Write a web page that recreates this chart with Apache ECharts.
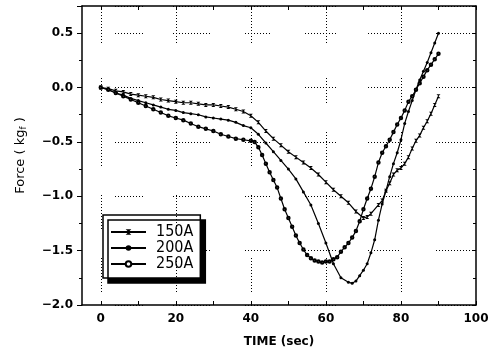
<!DOCTYPE html>
<html>
<head>
<meta charset="utf-8">
<script src="https://cdn.jsdelivr.net/npm/echarts@6/dist/echarts.min.js"></script>
<style>
html,body{margin:0;padding:0;background:#fff;}
#c{width:497px;height:353px;}
</style>
</head>
<body>
<div id="c"></div>
<script>
// ---- data ----
const seriesNames = ['150A', '200A', '250A'];
const xTickLabels = [0, 20, 40, 60, 80, 100];
const xGridValues = [0, 20, 40, 60, 80];
const yTickLabels = [-2.0, -1.5, -1.0, -0.5, 0.0, 0.5];

const s150_x = [0,2,4,6,8,10,12,14,16,18,20,22,24,26,28,30,32,34,36,38,40,42,44,46,48,50,52,54,56,58,60,62,64,66,68,70,71,72,74,75,76,77,78,79,80,81,82,83,84,85,86,87,88,89,90];
const s150_y = [0,-0.01,-0.03,-0.04,-0.06,-0.07,-0.08,-0.09,-0.11,-0.12,-0.13,-0.14,-0.14,-0.15,-0.16,-0.16,-0.17,-0.18,-0.20,-0.22,-0.26,-0.32,-0.40,-0.47,-0.53,-0.59,-0.64,-0.69,-0.74,-0.80,-0.87,-0.94,-1.00,-1.06,-1.14,-1.20,-1.19,-1.16,-1.08,-1.04,-0.95,-0.88,-0.80,-0.76,-0.74,-0.70,-0.64,-0.56,-0.49,-0.44,-0.37,-0.31,-0.24,-0.16,-0.08];

const s200_x = [0,2,4,6,8,10,12,14,16,18,20,22,24,26,28,30,32,34,36,38,40,42,44,46,48,50,52,54,56,58,60,62,64,66,67,68,69,70,71,72,73,74,75,76,77,78,79,80,81,82,83,84,85,86,87,88,89,90];
const s200_y = [0,-0.02,-0.05,-0.07,-0.10,-0.12,-0.14,-0.16,-0.18,-0.20,-0.21,-0.23,-0.24,-0.25,-0.27,-0.28,-0.29,-0.30,-0.32,-0.35,-0.37,-0.43,-0.51,-0.59,-0.67,-0.75,-0.84,-0.96,-1.08,-1.25,-1.43,-1.62,-1.75,-1.79,-1.80,-1.78,-1.73,-1.68,-1.62,-1.52,-1.40,-1.22,-1.07,-0.95,-0.82,-0.70,-0.60,-0.48,-0.33,-0.22,-0.12,-0.02,0.07,0.15,0.23,0.32,0.41,0.50];

const s250_x = [0,2,4,6,8,10,12,14,16,18,20,22,24,26,28,30,32,34,36,38,40,41,42,43,44,45,46,47,48,49,50,51,52,53,54,55,56,57,58,59,60,61,62,63,64,65,66,67,68,69,70,71,72,73,74,75,76,77,78,79,80,81,82,83,84,85,86,87,88,89,90];
const s250_y = [0,-0.02,-0.05,-0.08,-0.11,-0.14,-0.17,-0.20,-0.23,-0.26,-0.28,-0.30,-0.33,-0.36,-0.38,-0.40,-0.43,-0.45,-0.47,-0.48,-0.49,-0.50,-0.55,-0.62,-0.70,-0.78,-0.85,-0.92,-1.02,-1.12,-1.20,-1.28,-1.36,-1.43,-1.49,-1.54,-1.57,-1.59,-1.60,-1.61,-1.60,-1.60,-1.58,-1.56,-1.51,-1.47,-1.43,-1.38,-1.32,-1.23,-1.12,-1.02,-0.93,-0.82,-0.69,-0.60,-0.54,-0.48,-0.41,-0.34,-0.28,-0.21,-0.13,-0.08,-0.02,0.04,0.10,0.16,0.21,0.26,0.31];

// ---- helpers (style only) ----
function zip(xs, ys){ return xs.map((x,i)=>[x, ys[i]]); }
function segDash(segs){
  const dot = 1, gap = 2;
  const arr = []; let pos = 0;
  segs.forEach(s => {
    const off = s[0] - pos;
    if (arr.length === 0) { arr.push(0, off); } else { arr[arr.length-1] += off; }
    pos = s[0];
    while (pos + dot <= s[1]) { arr.push(dot, gap); pos += dot + gap; }
  });
  arr[arr.length-1] += 2000;
  return arr;
}
const hDash = segDash([[33,61],[91,128],[163,190],[223,256],[286,318],[354,393]]);
const vDash = segDash([[0,37],[72,99],[126,162],[189,224],[252,287]]);

const FONT = 'DejaVu Sans';
const minus = v => (v < 0 ? '\u2212' : '') + Math.abs(v).toFixed(1);
const xTicksAll = [0,10,20,30,40,50,60,70,80,90,100];

const chart = echarts.init(document.getElementById('c'), null, {renderer:'canvas'});
const axisLine = {show:true, onZero:false, lineStyle:{color:'#000', width:1.5}};
chart.setOption({
  animation:false,
  backgroundColor:'#fff',
  grid:{left:82, top:6, width:394, height:299, containLabel:false},
  xAxis:[
    {type:'value', position:'bottom', min:-5, max:100,
     axisLine:axisLine,
     axisTick:{show:true, inside:true, length:4, interval:0, customValues:xTicksAll, lineStyle:{color:'#000'}},
     axisLabel:{show:true, interval:0, customValues:xTickLabels, margin:8, color:'#000', fontFamily:FONT, fontWeight:'bold', fontSize:12},
     splitLine:{show:false},
     name:'TIME (sec)', nameLocation:'middle', nameGap:31,
     nameTextStyle:{color:'#000', fontFamily:FONT, fontWeight:'bold', fontSize:12}},
    {type:'value', position:'top', min:-5, max:100,
     axisLine:axisLine,
     axisTick:{show:true, inside:true, length:4, interval:0, customValues:xTicksAll, lineStyle:{color:'#000'}},
     axisLabel:{show:false}, splitLine:{show:false}}
  ],
  yAxis:[
    {type:'value', position:'left', min:-2, max:0.75, interval:0.5,
     axisLine:axisLine,
     axisTick:{show:true, inside:false, length:5, lineStyle:{color:'#000'}},
     minorTick:{show:true, splitNumber:2, length:3, lineStyle:{color:'#000'}},
     axisLabel:{margin:9, color:'#000', fontFamily:FONT, fontWeight:'bold', fontSize:12,
       showMaxLabel:false,
       formatter: v => (Math.abs(v*2 - Math.round(v*2)) < 1e-6 ? minus(v) : '')},
     splitLine:{show:true, lineStyle:{color:'#000', width:1, type:hDash}},
     name:'{m|Force ( kg}{s|f}{m| )}', nameLocation:'middle', nameGap:54, nameRotate:90,
     nameTextStyle:{rich:{m:{fontFamily:FONT, fontSize:13, color:'#000'}, s:{fontFamily:FONT, fontSize:9, color:'#000', padding:[6,0,0,0]}}}},
    {type:'value', position:'right', min:-2, max:0.75, interval:0.5,
     axisLine:axisLine,
     axisTick:{show:true, inside:true, length:4, lineStyle:{color:'#000'}},
     minorTick:{show:true, splitNumber:2, length:3, lineStyle:{color:'#000'}},
     axisLabel:{show:false}, splitLine:{show:false}}
  ],
  legend:{
    show:true, orient:'vertical', left:103, top:215,
    data:seriesNames,
    backgroundColor:'#fff', borderColor:'#000', borderWidth:1.5,
    shadowColor:'#000', shadowBlur:0, shadowOffsetX:5, shadowOffsetY:5,
    padding:[9,7,6,7], itemGap:0, itemWidth:35, itemHeight:7,
    textStyle:{fontFamily:"'Liberation Sans Narrow','DejaVu Sans Condensed',sans-serif", fontSize:16, color:'#000', lineHeight:16, padding:[0,0,0,5]}
  },
  series:[
    {name:seriesNames[0], type:'line', data:zip(s150_x, s150_y), xAxisIndex:0, yAxisIndex:0,
     symbol:'path://M0,0L10,0L5,5L10,10L0,10L5,5Z', symbolSize:4, showAllSymbol:true,
     lineStyle:{color:'#000', width:1.2}, itemStyle:{color:'#000'},
     markLine:{silent:true, symbol:['none','none'], label:{show:false},
       lineStyle:{color:'#000', width:1, type:vDash},
       data: xGridValues.map(v => [{coord:[v, 0.75]}, {coord:[v, -2]}])}},
    {name:seriesNames[1], type:'line', data:zip(s200_x, s200_y), xAxisIndex:0, yAxisIndex:0,
     symbol:'circle', symbolSize:3, showAllSymbol:true,
     lineStyle:{color:'#000', width:1.2}, itemStyle:{color:'#000'}},
    {name:seriesNames[2], type:'line', data:zip(s250_x, s250_y), xAxisIndex:0, yAxisIndex:0,
     symbol:'emptyCircle', symbolSize:2.5, showAllSymbol:true,
     lineStyle:{color:'#000', width:1.2}, itemStyle:{color:'#000', borderColor:'#000', borderWidth:1}}
  ]
});
</script>
</body>
</html>
